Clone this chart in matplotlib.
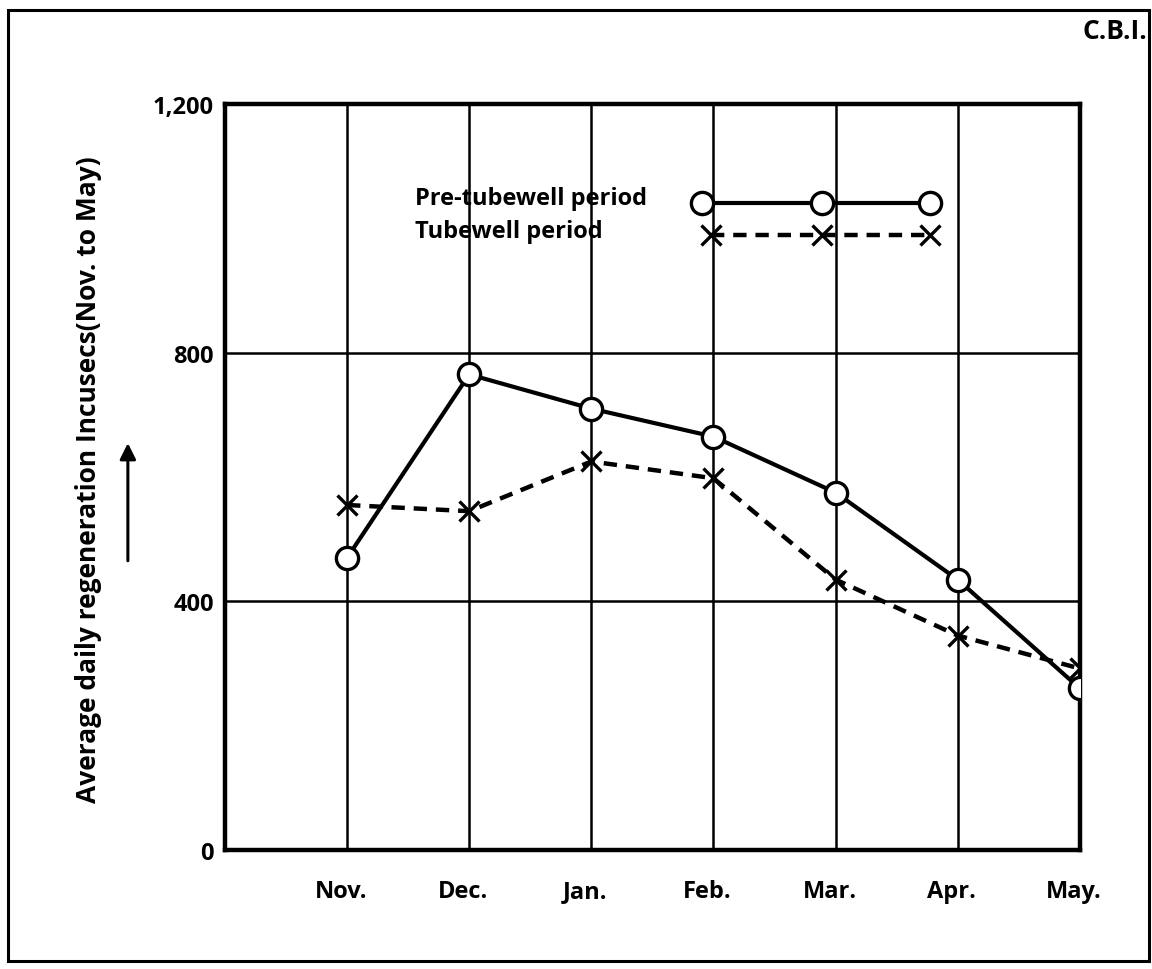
import matplotlib.pyplot as plt
from matplotlib.lines import Line2D
from matplotlib.patches import Rectangle

plt.rcParams["font.family"] = ["Open Sans", "DejaVu Sans"]
plt.rcParams["font.weight"] = "bold"

months = ["Nov.", "Dec.", "Jan.", "Feb.", "Mar.", "Apr.", "May."]
pre_tubewell = [470, 765, 710, 665, 575, 435, 260]
tubewell = [555, 545, 625, 598, 435, 345, 292]
y_ticks = [0, 400, 800, 1200]
y_tick_labels = ["0", "400", "800", "1,200"]

x = list(range(1, len(months) + 1))

fig = plt.figure(figsize=(11.52, 9.70), dpi=100)
ax = fig.add_axes([0.1953, 0.1227, 0.742, 0.769])

ax.set_xlim(0, 7)
ax.set_ylim(0, 1200)

# grid: a line at every month, and at 400 / 800
for xi in x:
    ax.axvline(xi, color="black", lw=1.8, zorder=1)
for yv in y_ticks[1:-1]:
    ax.axhline(yv, color="black", lw=1.8, zorder=1)

for sp in ax.spines.values():
    sp.set_linewidth(3.2)

ax.set_yticks(y_ticks)
ax.set_yticklabels(y_tick_labels, fontsize=17, fontweight="bold")
ax.tick_params(axis="y", length=0, pad=8)
ax.set_xticks([])
for xi, m in zip(x, months):
    ax.text(xi - 0.05, -66, m, ha="center", va="center", fontsize=17,
            fontweight="bold")

ax.plot(x, tubewell, color="black", lw=3.2, ls=(0, (3, 2)), marker="x",
        ms=14, mew=2.4, zorder=3)
ax.plot(x, pre_tubewell, color="black", lw=3.0, marker="o", ms=16,
        mfc="white", mec="black", mew=2.4, zorder=4)

# key in the upper part of the plot
key = [
    ("Pre-tubewell period", 0.868, 0.558,
     dict(ls="-", lw=3.0, marker="o", ms=16, mfc="white", mec="black",
          mew=2.4)),
    ("Tubewell period", 0.824, 0.568,
     dict(ls=(0, (3, 2)), lw=3.2, marker="x", ms=14, mew=2.4)),
]
for label, ky, kx, style in key:
    ax.text(0.222, ky + 0.006, label, transform=ax.transAxes, fontsize=17,
            fontweight="bold", va="center", ha="left")
    ax.add_line(Line2D([kx, 0.698, 0.825], [ky, ky, ky],
                       transform=ax.transAxes, color="black", zorder=5,
                       **style))

fig.text(0.077, 0.505, "Average daily regeneration Incusecs(Nov. to May)",
         rotation=90, ha="center", va="center", fontsize=19,
         fontweight="bold")
ax.annotate("", xy=(0.111, 0.545), xytext=(0.111, 0.418),
            xycoords="figure fraction", textcoords="figure fraction",
            annotation_clip=False,
            arrowprops=dict(arrowstyle="-|>", lw=2.2, color="black",
                            mutation_scale=24))

fig.text(0.996, 0.968, "C.B.I.", ha="right", va="center", fontsize=19,
         fontweight="bold")

fig.add_artist(Rectangle((0.007, 0.008), 0.99, 0.981,
                         transform=fig.transFigure, fill=False,
                         lw=2.2, color="black"))

fig.savefig("out.png", dpi=100)
